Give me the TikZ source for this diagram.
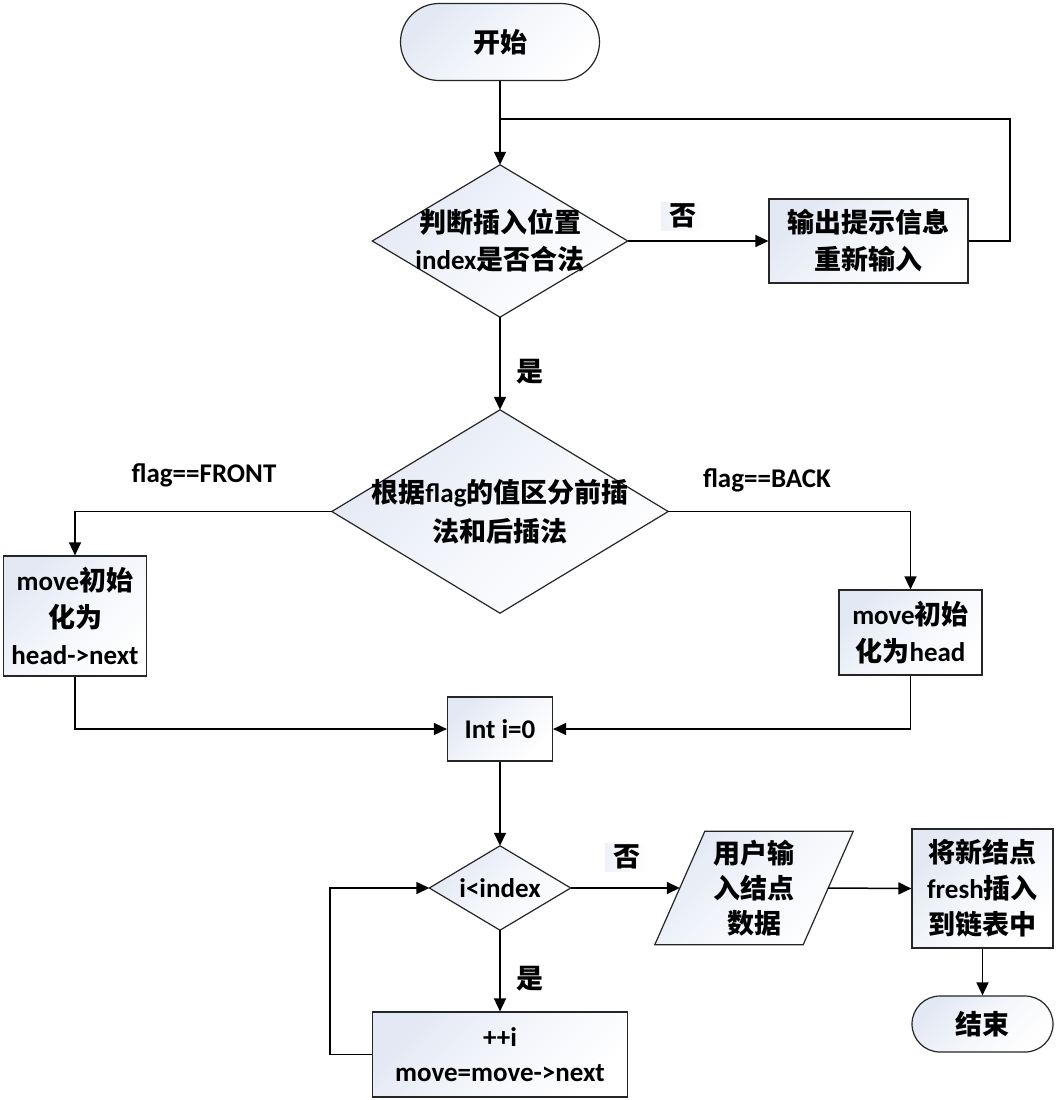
\documentclass[tikz,border=0pt]{standalone}
\usepackage{fontspec}
\setmainfont{Carlito}
\newfontfamily\cjk{Noto Sans CJK SC}
\usetikzlibrary{arrows.meta,backgrounds,calc}
\newcommand\zh[1]{{\cjk #1}}
\definecolor{shadeblue}{HTML}{E2E8F4}
\definecolor{labelbg}{HTML}{EEF1F8}
\begin{document}
\begin{tikzpicture}[x=1pt,y=-1pt,
  every node/.style={font=\bfseries\fontsize{27}{37}\selectfont, align=center, inner sep=0pt},
  shp/.style={draw=black!85, line width=1.2pt, top color=shadeblue, bottom color=white, middle color=white!60!shadeblue, shading angle=45},
  boxn/.style={shp, rectangle},
  term/.style={shp, rectangle, rounded corners=#1},
  hold/.style={rectangle},
  conn/.style={line width=1.5pt, draw=black},
  arr/.style={conn, -{Triangle[length=13pt,width=12pt]}},
  lblbg/.style={left color=labelbg, right color=white, minimum width=44pt, minimum height=28pt}
]
\useasboundingbox (0,0) rectangle (1056,1100);

% nodes
\node[term=38.5pt, minimum width=199pt, minimum height=77pt] (start) at (500,42) {\zh{开始}};
\node[hold, minimum width=255pt, minimum height=152pt] (d1) at (500,241) {\zh{判断插入位置}\\index\zh{是否合法}};
\node[boxn, minimum width=199pt, minimum height=84pt] (box1) at (868.5,241) {\zh{输出提示信息}\\\zh{重新输入}};
\node[hold, minimum width=336pt, minimum height=203pt, font=\bfseries\fontsize{27}{39}\selectfont] (d2) at (500,511.5) {\zh{根据}flag\zh{的值区分前插}\\\zh{法和后插法}};
\node[boxn, minimum width=143pt, minimum height=120pt] (boxL) at (75,616) {move\zh{初始}\\\zh{化为}\\head->next};
\node[boxn, minimum width=143pt, minimum height=85pt] (boxR) at (910.5,632.5) {move\zh{初始}\\\zh{化为}head};
\node[boxn, minimum width=105pt, minimum height=64pt] (int) at (500,729) {Int i=0};
\node[hold, minimum width=141pt, minimum height=84pt] (d3) at (500,888) {i<index};
\node[hold, minimum width=148pt, minimum height=113pt, font=\bfseries\fontsize{27}{35}\selectfont] (para) at (754,888) {\zh{用户输}\\\zh{入结点}\\\zh{数据}};
\node[boxn, minimum width=141pt, minimum height=119pt, font=\bfseries\fontsize{27}{36}\selectfont] (box3) at (982.5,888.5) {\zh{将新结点}\\fresh\zh{插入}\\\zh{到链表中}};
\node[term=28pt, minimum width=141pt, minimum height=56pt] (end) at (982.5,1024) {\zh{结束}};
\node[boxn, minimum width=255pt, minimum height=85pt, font=\bfseries\fontsize{27}{35}\selectfont] (box4) at (500,1054.5) {++i\\move=move->next};

% shapes drawn behind the text
\begin{scope}[on background layer]
  \fill[white] (0,0) rectangle (1056,1100);
  \path[shp] (d1.north) -- (d1.east) -- (d1.south) -- (d1.west) -- cycle;
  \path[shp] (d2.north) -- (d2.east) -- (d2.south) -- (d2.west) -- cycle;
  \path[shp] (d3.north) -- (d3.east) -- (d3.south) -- (d3.west) -- cycle;
  \path[shp] ($(para.north west)+(25,0)$) -- ($(para.north east)+(25,0)$) -- ($(para.south east)+(-25,0)$) -- ($(para.south west)+(-25,0)$) -- cycle;
\end{scope}

% labels
\node[lblbg] (l1) at (683,216) {\zh{否}};
\node (l2) at (530,372) {\zh{是}};
\node (l3) at (204,475) {flag==FRONT};
\node (l4) at (767,480) {flag==BACK};
\node[lblbg] (l5) at (627,857) {\zh{否}};
\node (l6) at (530,979) {\zh{是}};

% helper coordinates
\coordinate (loopj) at (500,119);
\coordinate (loopr) at (1010,119);
\coordinate (loopl) at (330,888);

% connectors
\draw[arr] (start.south) -- (d1.north);
\draw[conn] (box1.east) -| (loopr) -- (loopj);
\draw[arr] (d1.east) -- (box1.west);
\draw[arr] (d1.south) -- (d2.north);
\draw[arr] (d2.west) -| (boxL.north);
\draw[arr] (d2.east) -| (boxR.north);
\draw[arr] (boxL.south) |- (int.west);
\draw[arr] (boxR.south) |- (int.east);
\draw[arr] (int.south) -- (d3.north);
\draw[arr] (d3.east) -- (para.west);
\draw[arr] (para.east) -- (box3.west);
\draw[arr] (box3.south) -- (end.north);
\draw[arr] (d3.south) -- (box4.north);
\draw[arr] (box4.west) -| (loopl) -- (d3.west);
\end{tikzpicture}
\end{document}
